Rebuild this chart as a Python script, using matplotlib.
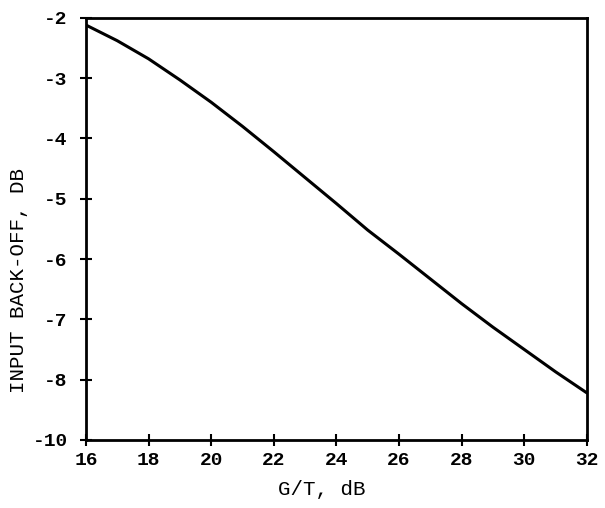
import matplotlib
matplotlib.use("Agg")
import matplotlib.pyplot as plt

# Data
gt_db = [16, 17, 18, 19, 20, 21, 22, 23, 24, 25, 26, 27, 28, 29, 30, 31, 32]
backoff_db = [-2.12, -2.38, -2.68, -3.03, -3.40, -3.80, -4.22, -4.65, -5.08,
              -5.52, -5.92, -6.33, -6.74, -7.13, -7.50, -7.87, -8.22]

xticks = [16, 18, 20, 22, 24, 26, 28, 30, 32]
xtick_labels = ["16", "18", "20", "22", "24", "26", "28", "30", "32"]
yticks = [-2, -3, -4, -5, -6, -7, -8, -9]
ytick_labels = ["-2", "-3", "-4", "-5", "-6", "-7", "-8", "-10"]

font = "Liberation Mono"

fig = plt.figure(figsize=(6.05, 5.08), dpi=100)
ax = fig.add_axes([0.142, 0.134, 0.828, 0.831])

ax.plot(gt_db, backoff_db, color="black", linewidth=2.2, solid_capstyle="round")

ax.set_xlim(16, 32)
ax.set_ylim(-9, -2)
ax.set_xticks(xticks)
ax.set_xticklabels(xtick_labels, fontfamily=font, fontsize=14, fontweight="bold")
ax.set_yticks(yticks)
ax.set_yticklabels(ytick_labels, fontfamily=font, fontsize=14, fontweight="bold")
ax.tick_params(axis="both", direction="inout", length=8, width=1.5, color="black")
ax.tick_params(axis="y", pad=9)
ax.tick_params(axis="x", pad=5)

for s in ax.spines.values():
    s.set_linewidth(2.0)
    s.set_color("black")

ax.set_xlabel("G/T, dB", fontfamily=font, fontsize=15)
ax.xaxis.set_label_coords(0.47, -0.095)
ax.set_ylabel("INPUT BACK-OFF, DB", fontfamily=font, fontsize=15)
ax.yaxis.set_label_coords(-0.115, 0.377)

fig.savefig("out.png", dpi=100)
